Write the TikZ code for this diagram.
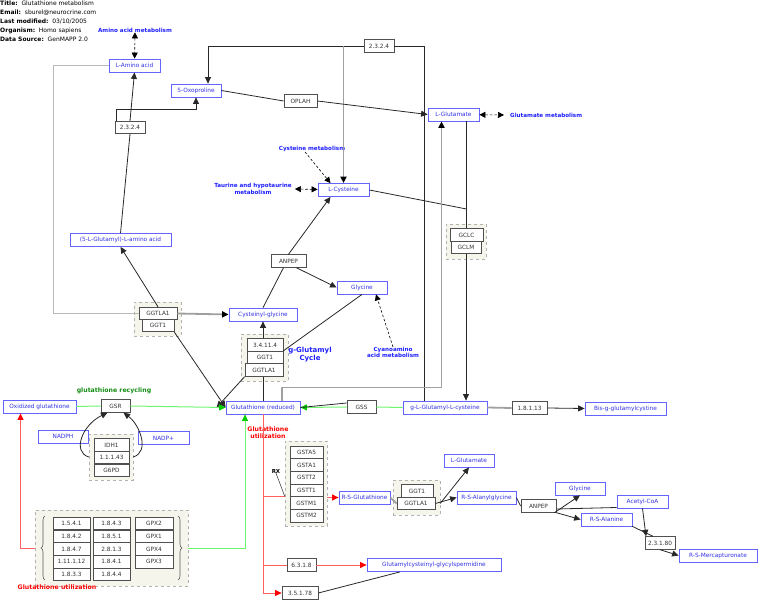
\documentclass[tikz,border=0pt]{standalone}
\usepackage{fontspec}
\setmainfont{DejaVu Sans}
\usepackage{tikz}
\usetikzlibrary{arrows.meta, positioning, calc, decorations.pathreplacing}
\definecolor{metblue}{RGB}{100, 100, 255}
\definecolor{mettext}{RGB}{50, 50, 230}
\definecolor{pwblue}{RGB}{30, 30, 255}
\definecolor{genegray}{RGB}{80, 80, 80}
\definecolor{grpfill}{RGB}{245, 245, 236}
\definecolor{linedark}{RGB}{40, 40, 40}
\definecolor{linegray}{RGB}{160, 160, 160}
\definecolor{cyclegreen}{RGB}{110, 245, 110}
\definecolor{labelgreen}{RGB}{20, 140, 20}
\definecolor{utilred}{RGB}{255, 95, 95}
\tikzset{
    metab/.style={draw=metblue, fill=white, text=mettext, rectangle, line width=0.8pt, minimum height=13, inner sep=0pt, font=\fontsize{5.8}{6}\selectfont},
    gene/.style={draw=genegray, fill=white, text=black!80, rectangle, line width=0.8pt, minimum height=12.6, inner sep=0pt, font=\fontsize{5.8}{6}\selectfont},
    genegrp/.style={draw=gray!60, dashed, fill=grpfill, rectangle, inner sep=0pt},
    pwlabel/.style={text=pwblue, align=center, inner sep=0pt, font=\fontsize{5.6}{6.4}\selectfont\bfseries},
    greenlabel/.style={text=labelgreen, inner sep=0pt, font=\fontsize{6.2}{7}\selectfont\bfseries},
    redlabel/.style={text=red, align=center, inner sep=0pt, font=\fontsize{6.2}{7}\selectfont\bfseries},
    rxnline/.style={draw=linedark, line width=0.8pt},
    rxnarrow/.style={rxnline, -{Triangle[length=6.5pt, width=6pt]}},
    grayline/.style={draw=linegray, line width=1.8pt},
    grayarrow/.style={grayline, -{Triangle[length=6.5pt, width=6pt, color=black]}},
    greenline/.style={draw=cyclegreen, line width=1pt},
    greenarrow/.style={greenline, -{Triangle[length=6.5pt, width=6pt, color=green!80!black]}},
    redline/.style={draw=utilred, line width=1pt},
    redarrow/.style={redline, -{Triangle[length=6.5pt, width=6pt, color=red]}},
    linkone/.style={draw=black, line width=0.6pt, dash pattern=on 2.5pt off 2pt, -{Triangle[length=6pt, width=6pt]}},
    linkboth/.style={linkone, {Triangle[length=6pt, width=6pt]}-{Triangle[length=6pt, width=6pt]}},
}

\begin{document}
\begin{tikzpicture}[x=1pt, y=-1pt]
    \useasboundingbox (0,0) rectangle (766,609);

    % Header
    \node[anchor=north west, align=left, inner sep=0pt, font=\fontsize{6}{9}\selectfont] (hdr) at (0,1) {\textbf{Title:}\ \ Glutathione metabolism\\\textbf{Email:}\ \ sburel@neurocrine.com\\\textbf{Last modified:}\ \ 03/10/2005\\\textbf{Organism:}\ \ Homo sapiens\\\textbf{Data Source:}\ \ GenMAPP 2.0};

    % Gene groups
    \node[genegrp, minimum width=40, minimum height=35] (gclgrp) at (466,241.5) {};
    \node[genegrp, minimum width=47, minimum height=34] (ggtgrpA) at (157.5,319) {};
    \node[genegrp, minimum width=47, minimum height=47] (ggtgrpB) at (264.5,357.5) {};
    \node[genegrp, minimum width=44, minimum height=46] (idhgrp) at (111,457) {};
    \node[genegrp, minimum width=42, minimum height=85] (gstgrp) at (306,483.5) {};
    \node[genegrp, minimum width=47, minimum height=35] (ggtgrpC) at (416.5,497.5) {};
    \node[genegrp, minimum width=153, minimum height=76] (gpxgrp) at (111.5,548) {};

    % Metabolites
    \node[metab, minimum width=51] (lamino) at (134.5,65.5) {L-Amino acid};
    \node[metab, minimum width=50] (oxopro) at (196,90.5) {5-Oxoproline};
    \node[metab, minimum width=51] (lglu) at (453.5,114.5) {L-Glutamate};
    \node[metab, minimum width=51] (lcys) at (343.5,190) {L-Cysteine};
    \node[metab, minimum width=101] (glamino) at (120.5,240) {(5-L-Glutamyl)-L-amino acid};
    \node[metab, minimum width=50] (glyA) at (362,287.5) {Glycine};
    \node[metab, minimum width=68] (cysgly) at (263,314.5) {Cysteinyl-glycine};
    \node[metab, minimum width=73] (oxgsh) at (39.5,406.5) {Oxidized glutathione};
    \node[metab, minimum width=74] (gsh) at (263,407.5) {Glutathione (reduced)};
    \node[metab, minimum width=84] (glucys) at (445,407.5) {g-L-Glutamyl-L-cysteine};
    \node[metab, minimum width=81] (bisgc) at (625.5,408.5) {Bis-g-glutamylcystine};
    \node[metab, minimum width=50] (nadph) at (63,436.5) {NADPH};
    \node[metab, minimum width=51] (nadpp) at (163.5,438) {NADP+};
    \node[metab, minimum width=50] (lgluB) at (469,460.5) {L-Glutamate};
    \node[metab, minimum width=51] (rsgsh) at (364.5,497.5) {R-S-Glutathione};
    \node[metab, minimum width=59] (rsalagly) at (486.5,497.5) {R-S-Alanylglycine};
    \node[metab, minimum width=50] (glyB) at (580,488.5) {Glycine};
    \node[metab, minimum width=51] (acetyl) at (642.5,501.5) {Acetyl-CoA};
    \node[metab, minimum width=51] (rsala) at (606.5,519.5) {R-S-Alanine};
    \node[metab, minimum width=78] (rsmerc) at (718,555.5) {R-S-Mercapturonate};
    \node[metab, minimum width=134] (gcgs) at (434,565) {Glutamylcysteinyl-glycylspermidine};

    % Genes
    \node[gene, minimum width=30] (ecA) at (379,46) {2.3.2.4};
    \node[gene, minimum width=33] (oplah) at (300.5,101) {OPLAH};
    \node[gene, minimum width=30] (ecB) at (130,127.5) {2.3.2.4};
    \node[gene, minimum width=35] (anpepA) at (288.5,261) {ANPEP};
    \node[gene, minimum width=33] (gclc) at (466.5,235) {GCLC};
    \node[gene, minimum width=30] (gclm) at (466,247.5) {GCLM};
    \node[gene, minimum width=38] (ggtlaA) at (158,313.5) {GGTLA1};
    \node[gene, minimum width=32] (ggtA) at (158,325.5) {GGT1};
    \node[gene, minimum width=36] (ec34114) at (265,345) {3.4.11.4};
    \node[gene, minimum width=36] (ggtB) at (265,357.5) {GGT1};
    \node[gene, minimum width=38] (ggtlaB) at (264,370) {GGTLA1};
    \node[gene, minimum width=29] (gsr) at (115.5,406) {GSR};
    \node[gene, minimum width=29] (gss) at (361.5,407) {GSS};
    \node[gene, minimum width=35] (ec18113) at (529.5,408) {1.8.1.13};
    \node[gene, minimum width=35] (idh1) at (111.5,445) {IDH1};
    \node[gene, minimum width=35] (ec11143) at (111.5,457.5) {1.1.1.43};
    \node[gene, minimum width=35] (g6pd) at (111.5,470.5) {G6PD};
    \node[gene, minimum width=33] (gsta5) at (306.5,452.5) {GSTA5};
    \node[gene, minimum width=33] (gsta1) at (306.5,465) {GSTA1};
    \node[gene, minimum width=33] (gstt2) at (306.5,477.7) {GSTT2};
    \node[gene, minimum width=33] (gstt1) at (306.5,490.4) {GSTT1};
    \node[gene, minimum width=33] (gstm1) at (306.5,503.1) {GSTM1};
    \node[gene, minimum width=33] (gstm2) at (306.5,515.8) {GSTM2};
    \node[gene, minimum width=32] (ggtC) at (417,491) {GGT1};
    \node[gene, minimum width=38] (ggtlaC) at (416,503.5) {GGTLA1};
    \node[gene, minimum width=35] (anpepB) at (538.5,506) {ANPEP};
    \node[gene, minimum width=30] (ec23180) at (660,543) {2.3.1.80};
    \node[gene, minimum width=29] (ec6318) at (301.5,565) {6.3.1.8};
    \node[gene, minimum width=36] (ec35178) at (300,593) {3.5.1.78};

    % Glutathione utilization table
    \node[gene, minimum width=37] (ec1541) at (71.5,523.5) {1.5.4.1};
    \node[gene, minimum width=37] (ec1842) at (71.5,536.2) {1.8.4.2};
    \node[gene, minimum width=37] (ec1847) at (71.5,548.9) {1.8.4.7};
    \node[gene, minimum width=37] (ec111112) at (71.5,561.6) {1.11.1.12};
    \node[gene, minimum width=37] (ec1833) at (71.5,574.3) {1.8.3.3};
    \node[gene, minimum width=37] (ec1843) at (111.5,523.5) {1.8.4.3};
    \node[gene, minimum width=37] (ec1851) at (111.5,536.2) {1.8.5.1};
    \node[gene, minimum width=37] (ec2813) at (111.5,548.9) {2.8.1.3};
    \node[gene, minimum width=37] (ec1841) at (111.5,561.6) {1.8.4.1};
    \node[gene, minimum width=37] (ec1844) at (111.5,574.3) {1.8.4.4};
    \node[gene, minimum width=38] (gpx2) at (154,523.5) {GPX2};
    \node[gene, minimum width=38] (gpx1) at (154,536.2) {GPX1};
    \node[gene, minimum width=38] (gpx4) at (154,548.9) {GPX4};
    \node[gene, minimum width=38] (gpx3) at (154,561.6) {GPX3};
    \draw[gray!70!black, line width=0.6pt, decorate, decoration={brace, amplitude=4pt}] (45,580) -- (45,516);
    \draw[gray!70!black, line width=0.6pt, decorate, decoration={brace, amplitude=4pt}] (178,516) -- (178,580);

    % Labels
    \node[pwlabel] (aamlbl) at (135,30) {Amino acid metabolism};
    \node[pwlabel, anchor=west] (glumetlbl) at (510,115) {Glutamate metabolism};
    \node[pwlabel] (cysmetlbl) at (312,149) {Cysteine metabolism};
    \node[pwlabel] (taurlbl) at (253,189) {Taurine and hypotaurine\\metabolism};
    \node[pwlabel] (cyanolbl) at (393,352.5) {Cyanoamino\\acid metabolism};
    \node[pwlabel, font=\fontsize{7}{8}\selectfont\bfseries] (cyclelbl) at (310,355) {g-Glutamyl\\Cycle};
    \node[greenlabel] (recyclbl) at (114,391) {glutathione recycling};
    \node[redlabel] (utillblA) at (268,433) {Glutathione\\utilization};
    \node[redlabel] (utillblB) at (57,587.5) {Glutathione utilization};
    \node[inner sep=0pt, font=\fontsize{5.5}{6}\selectfont\bfseries] (rxlbl) at (276,471) {RX};

    % Links to other pathways
    \draw[linkboth] (aamlbl) -- (lamino);
    \draw[linkboth] (lglu) -- ([xshift=-6]glumetlbl.west);
    \draw[linkone] ([xshift=-7]cysmetlbl.south) -- ([xshift=-13]lcys.north);
    \draw[linkboth] ([xshift=3]taurlbl.east) -- (lcys);
    \draw[linkone] (cyanolbl.north) -- ([xshift=14]glyA.south);

    % g-Glutamyl cycle
    \draw[rxnarrow] (ecB.north) -- (lamino.south);
    \draw[rxnarrow] ([xshift=2]ecB.north west) -- ++(0,-11) -| (oxopro.south);
    \draw[rxnline] (glamino.north) -- (ecB.south);
    \draw[rxnarrow] (ggtlaA.north) -- (glamino.south);
    \draw[grayline, line width=1pt, draw=gray!55] (lamino.west) -- (53,65.5) |- (ggtlaA.west);
    \draw[grayarrow, draw=gray!75] (ggtlaA.east) -- (cysgly.west);
    \draw[rxnarrow] (ggtA.south east) -- (gsh.west);
    \draw[rxnarrow] (ggtlaB.south west) -- ([xshift=-9]gsh.west);
    \draw[rxnarrow] (ec34114.north -| cysgly.south) -- (cysgly.south);
    \draw[rxnline] (gsh.north) -- (gsh.north |- ggtlaB.south);
    \draw[rxnline] (glyA.south) -- (ggtB.north east);
    \draw[rxnline] (cysgly.north) -- ([xshift=-5]anpepA.south);
    \draw[rxnarrow] (anpepA.north) -- ([xshift=-13]lcys.south);
    \draw[rxnarrow] ([xshift=-10]anpepA.south east) -- (glyA.west);
    \draw[rxnarrow] (ecA.west) -| ([xshift=12]oxopro.north);
    \draw[grayarrow] (lcys.north |- ecA.west) -- (lcys.north);
    \draw[rxnline] (ecA.east) -| ([xshift=-21]glucys.north);
    \draw[rxnline] (oxopro.east) -- (oplah.west);
    \draw[rxnarrow] (oplah.east) -- (lglu.west);
    \draw[rxnline] (gclc.north |- lglu.south) -- (gclc.north);
    \draw[rxnline] (lcys.east) -- (gclc.north |- 0,209);
    \draw[rxnarrow] (gclm.south) -- (gclm.south |- glucys.north);
    \draw[grayarrow] ([xshift=19]gsh.north) -- ++(0,-13) -| ([xshift=-12]lglu.south);
    \draw[greenline] (glucys.west) -- (gss.east);
    \draw[greenarrow] (gss.west) -- (gsh.east);
    \draw[rxnline] ([yshift=4]gss.west) -- (gsh.east);
    \draw[grayline] (glucys.east) -- (ec18113.west);
    \draw[rxnarrow] (ec18113.east) -- (bisgc.west);

    % Glutathione recycling
    \draw[greenline] (oxgsh.east) -- (gsr.west);
    \draw[greenarrow] (gsr.east) -- (gsh.west);
    \draw[rxnarrow] (idhgrp.west) .. controls (72,452) and (82,425) .. ([xshift=-8]gsr.south);
    \draw[rxnarrow] (idhgrp.east) .. controls (150,452) and (140,425) .. ([xshift=8]gsr.south);
    \draw[redarrow] (gpxgrp.west) -| ([xshift=-19]oxgsh.south);
    \draw[greenarrow] (gpxgrp.east) -| ([xshift=-18]gsh.south);

    % Glutathione utilization
    \draw[redarrow] (gsh.south) |- (ec35178.west);
    \draw[redline] (gsh.south |- gstm1.north) -- (gstgrp.west |- gstm1.north);
    \draw[redarrow] (gstgrp.east |- rsgsh) -- (rsgsh.west);
    \draw[redline] (gsh.south |- ec6318) -- (ec6318.west);
    \draw[redarrow] (ec6318.east) -- (gcgs.west);
    \draw[rxnline] (ec35178.east) -- ([xshift=-34]gcgs.south);
    \draw[rxnline, line width=0.5pt] (rxlbl.south) -- (gstgrp.west |- gstm1.north);
    \draw[grayline] (rsgsh.east) -- (ggtlaC.west);
    \draw[rxnarrow] (ggtlaC.east) -- (rsalagly.west);
    \draw[rxnarrow] (ggtgrpC.east |- ggtlaC) -- (lgluB.south);
    \draw[rxnline] (rsalagly.east) -- (anpepB.west);
    \draw[rxnarrow] (anpepB.south east) -- (rsala.west);
    \draw[rxnarrow] ([xshift=-2]anpepB.south east) -- (glyB.south);
    \draw[rxnline] ([yshift=-3]anpepB.east) -- ([yshift=-6]acetyl.west);
    \draw[rxnarrow] (acetyl.south) -- ([xshift=-14]ec23180.north);
    \draw[rxnline] (rsala.south east) -- ([xshift=-7]ec23180.north);
    \draw[rxnarrow] (ec23180.south) -- (rsmerc.west);
\end{tikzpicture}
\end{document}
